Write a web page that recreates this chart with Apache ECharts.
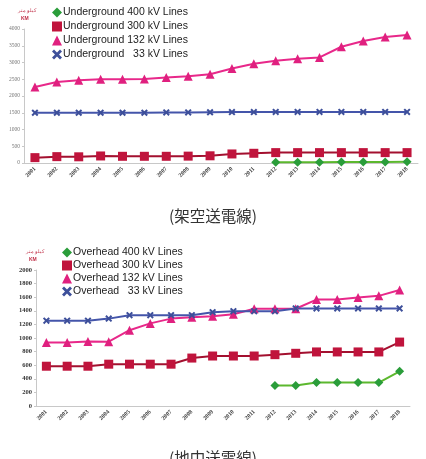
<!DOCTYPE html>
<html>
<head>
    <meta charset="utf-8">
    <title>Transmission lines</title>
    <style>
        html, body { margin: 0; padding: 0; background: #fff; }
        #main { width: 426px; height: 459px; }
    </style>
</head>
<body>
<div id="main"></div>
<script src="https://cdn.jsdelivr.net/npm/echarts@6/dist/echarts.min.js"></script>
<script>
    var years = ['2001','2002','2003','2004','2005','2006','2007','2008','2009',
                 '2010','2011','2012','2013','2014','2015','2016','2017','2018'];

    // top chart (underground)
    var ug400 = [null,null,null,null,null,null,null,null,null,null,null,20,22,25,28,30,32,35];
    var ug300 = [160,190,185,210,200,200,200,205,215,270,290,310,310,310,310,310,310,310];
    var ug132 = [2270,2420,2470,2500,2500,2510,2550,2590,2650,2820,2960,3050,3110,3150,3470,3640,3760,3820];
    var ug33  = [1500,1500,1500,1500,1500,1500,1510,1510,1515,1520,1520,1525,1525,1525,1525,1525,1525,1525];

    // bottom chart (overhead)
    var oh400 = [null,null,null,null,null,null,null,null,null,null,null,300,300,345,345,345,345,510];
    var oh300 = [585,585,585,615,615,615,615,705,735,735,735,755,775,795,795,795,795,940];
    var oh132 = [935,935,950,945,1115,1215,1285,1305,1320,1350,1430,1430,1430,1565,1565,1595,1620,1705];
    var oh33  = [1255,1255,1255,1285,1335,1335,1335,1335,1380,1395,1395,1395,1435,1435,1435,1435,1435,1435];

    var X_ICON = 'path://M2,0L5,3L8,0L10,2L7,5L10,8L8,10L5,7L2,10L0,8L3,5L0,2Z';
    var legendFont = "'Liberation Sans', sans-serif";

    var styles = {
        kv400: {line: '#5cb82e', mark: '#2a9d3a', symbol: 'diamond', size: 9, icon: 'diamond'},
        kv300: {line: '#a3102f', mark: '#c0143c', symbol: 'rect', size: 9, icon: 'rect'},
        kv132: {line: '#e8288a', mark: '#e0207f', symbol: 'triangle', size: 9, icon: 'triangle'},
        kv33:  {line: '#4455aa', mark: '#3d4f9a', symbol: X_ICON, size: 7, icon: X_ICON}
    };

    function mkSeries(name, data, st, idx) {
        return {
            name: name,
            type: 'line',
            xAxisIndex: idx,
            yAxisIndex: idx,
            data: data,
            symbol: st.symbol,
            symbolSize: st.size,
            connectNulls: false,
            lineStyle: {color: st.line, width: 2},
            itemStyle: {color: st.mark},
            animation: false
        };
    }

    function mkLegend(names, left, top, gap) {
        var keys = ['kv400', 'kv300', 'kv132', 'kv33'];
        return {
            orient: 'vertical',
            left: left,
            top: top,
            itemWidth: 10,
            itemHeight: 10,
            itemGap: gap,
            textStyle: {fontFamily: legendFont, fontSize: 10.5, color: '#222', padding: [0, 0, 0, -4]},
            data: names.map(function (n, i) {
                var st = styles[keys[i]];
                return {name: n, icon: st.icon, itemStyle: {color: st.mark}};
            })
        };
    }

    var ugNames = ['Underground 400 kV Lines', 'Underground 300 kV Lines',
                   'Underground 132 kV Lines', 'Underground   33 kV Lines'];
    var ohNames = ['Overhead 400 kV Lines', 'Overhead 300 kV Lines',
                   'Overhead 132 kV Lines', 'Overhead   33 kV Lines'];

    function xAx(idx) {
        return {
            type: 'category',
            gridIndex: idx,
            data: years,
            boundaryGap: true,
            axisLine: {lineStyle: {color: '#c8c8c8'}},
            axisTick: {length: 2, lineStyle: {color: '#c8c8c8'}},
            axisLabel: {
                rotate: 45, interval: 0, margin: 5,
                fontSize: 6, fontWeight: 'bold', color: '#444',
                fontFamily: "'Liberation Serif', serif"
            }
        };
    }

    function yAx(idx, max, step, lab) {
        lab.formatter = function (v) { return String(v); };
        return {
            type: 'value',
            gridIndex: idx,
            min: 0, max: max, interval: step,
            splitLine: {show: false},
            axisLine: {show: true, lineStyle: {color: '#c8c8c8'}},
            axisTick: {show: true, length: 2, lineStyle: {color: '#c8c8c8'}},
            axisLabel: lab
        };
    }

    var myChart = echarts.init(document.getElementById('main'));
    var option = {
        backgroundColor: '#ffffff',
        animation: false,
        title: [
            {text: '(架空送電線)', left: 'center', top: 203,
             textStyle: {fontFamily: "'Noto Sans CJK JP'", fontSize: 15.5, fontWeight: 'normal', color: '#333'}},
            {text: '(地中送電線)', left: 'center', top: 445,
             textStyle: {fontFamily: "'Noto Sans CJK JP'", fontSize: 15.5, fontWeight: 'normal', color: '#333'}}
        ],
        legend: [mkLegend(ugNames, 47, 2, 3), mkLegend(ohNames, 57, 242, 2)],
        grid: [
            {left: 24, right: 8, top: 29, height: 134},
            {left: 36, right: 16, top: 270, height: 136}
        ],
        xAxis: [xAx(0), xAx(1)],
        yAxis: [
            yAx(0, 4000, 500, {fontSize: 5.5, color: '#777', margin: 4, fontFamily: "'Liberation Serif', serif"}),
            yAx(1, 2000, 200, {fontSize: 6.5, color: '#333', fontWeight: 'bold', margin: 4, fontFamily: "'Liberation Serif', serif"})
        ],
        graphic: [
            {type: 'text', left: 18, top: 8, style: {text: 'كيلو متر', fontSize: 5, fill: '#c03048'}},
            {type: 'text', left: 21, top: 16, style: {text: 'KM', fontSize: 5, fill: '#c03048', fontWeight: 'bold'}},
            {type: 'text', left: 26, top: 249, style: {text: 'كيلو متر', fontSize: 5, fill: '#c03048'}},
            {type: 'text', left: 29, top: 257, style: {text: 'KM', fontSize: 5, fill: '#c03048', fontWeight: 'bold'}}
        ],
        series: [
            mkSeries(ugNames[0], ug400, styles.kv400, 0),
            mkSeries(ugNames[1], ug300, styles.kv300, 0),
            mkSeries(ugNames[2], ug132, styles.kv132, 0),
            mkSeries(ugNames[3], ug33, styles.kv33, 0),
            mkSeries(ohNames[0], oh400, styles.kv400, 1),
            mkSeries(ohNames[1], oh300, styles.kv300, 1),
            mkSeries(ohNames[2], oh132, styles.kv132, 1),
            mkSeries(ohNames[3], oh33, styles.kv33, 1)
        ]
    };
    myChart.setOption(option);
</script>
</body>
</html>
